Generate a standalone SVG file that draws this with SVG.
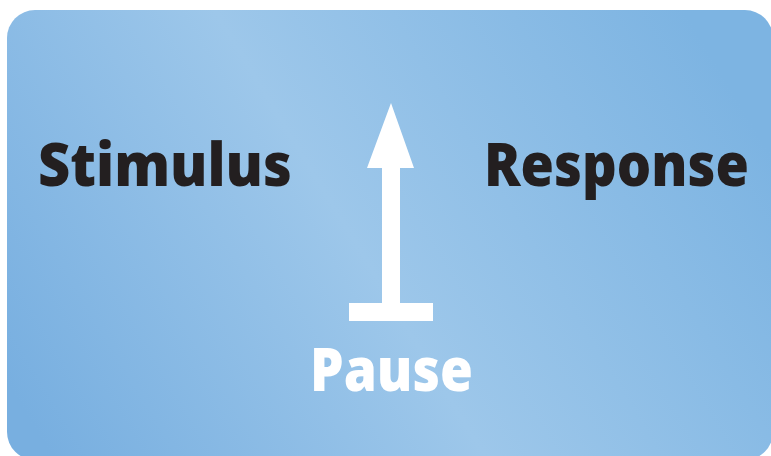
<svg xmlns="http://www.w3.org/2000/svg" width="771" height="456" viewBox="0 0 771 456">
  <defs>
    <linearGradient id="bg" gradientUnits="userSpaceOnUse" x1="60" y1="470" x2="720" y2="70">
      <stop offset="0" stop-color="#78afe0"/>
      <stop offset="0.48" stop-color="#9dc7ea"/>
      <stop offset="1" stop-color="#7db4e2"/>
    </linearGradient>
    <style>
      .label { font-family: "Open Sans", "Liberation Sans", sans-serif; font-weight: 800; }
      .dark { fill: #231f20; }
      .light { fill: #ffffff; }
    </style>
  </defs>

  <rect x="0" y="0" width="771" height="456" fill="#ffffff"/>
  <!-- panel -->
  <rect x="7" y="10" width="766" height="450" rx="28" ry="28" fill="url(#bg)"/>

  <g id="stimulus">
    <text class="label dark" x="38" y="186" font-size="60" textLength="254" lengthAdjust="spacingAndGlyphs">Stimulus</text>
  </g>
  <g id="response">
    <text class="label dark" x="484" y="186" font-size="60" textLength="265" lengthAdjust="spacingAndGlyphs">Response</text>
  </g>
  <g id="pause">
    <text class="label light" x="310" y="391" font-size="61" textLength="163" lengthAdjust="spacingAndGlyphs">Pause</text>
  </g>

  <g id="connectors" fill="#ffffff">
    <!-- upward arrow from pause bar -->
    <polygon points="391,103 414,168 400,168 400,303 433,303 433,321 349,321 349,303 382,303 382,168 367,168"/>
  </g>
</svg>
